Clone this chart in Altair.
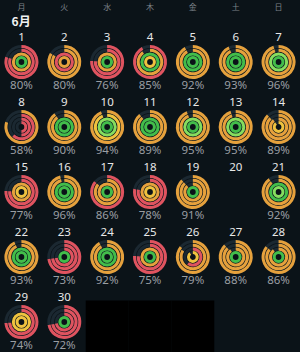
import math
import altair as alt
import pandas as pd

weekdays = ["月", "火", "水", "木", "金", "土", "日"]
month_label = "6月"
days = list(range(1, 31))
first_weekday = 0  # June 1 falls on a Monday
blank_days = [31, 32, 33]

pct = [80, 80, 76, 85, 92, 93, 96,
       58, 90, 94, 89, 95, 95, 89,
       77, 96, 86, 78, 91, None, 92,
       93, 73, 92, 75, 79, 88, 86,
       74, 72]

# ring colours, outer -> inner (R red, O orange, Y yellow, G green, L light green)
ring1_color = ["R", "O", "R", "R", "O", "O", "O",
               "O", "O", "O", "O", "O", "O", "O",
               "R", "O", "R", "R", "O", "", "O",
               "O", "R", "O", "R", "O", "O", "O",
               "R", "R"]
ring1_frac = [0.80, 0.84, 0.76, 0.92, 0.92, 0.93, 0.95,
              0.80, 0.90, 0.94, 0.89, 0.94, 0.95, 0.88,
              0.76, 0.96, 0.86, 0.78, 0.88, 0, 0.90,
              0.93, 0.73, 0.92, 0.76, 0.86, 0.88, 0.86,
              0.74, 0.72]
ring2_color = ["R", "O", "R", "O", "O", "O", "O",
               "R", "O", "Y", "O", "O", "O", "O",
               "R", "O", "O", "R", "O", "", "O",
               "O", "R", "O", "R", "O", "O", "O",
               "R", "R"]
ring2_frac = [0.80, 0.84, 0.76, 0.90, 0.92, 0.93, 0.95,
              0.62, 0.90, 0.94, 0.89, 0.94, 0.95, 0.88,
              0.76, 0.96, 0.86, 0.78, 0.88, 0, 0.90,
              0.93, 0.73, 0.92, 0.76, 0.84, 0.88, 0.86,
              0.74, 0.72]
ring3_color = ["O", "R", "O", "G", "G", "G", "L",
               "R", "G", "L", "G", "L", "L", "O",
               "O", "G", "O", "O", "O", "", "G",
               "G", "R", "G", "O", "R", "O", "O",
               "Y", "R"]
ring3_frac = [1.0, 1.0, 1.0, 1.0, 1.0, 1.0, 1.0,
              0.50, 1.0, 1.0, 1.0, 1.0, 1.0, 0.90,
              1.0, 1.0, 1.0, 1.0, 0.88, 0, 1.0,
              1.0, 0.73, 1.0, 1.0, 0.60, 0.90, 0.90,
              1.0, 0.72]
ring4_color = ["G", "O", "G", "Y", "G", "G", "G",
               "R", "G", "G", "G", "G", "G", "Y",
               "Y", "G", "G", "Y", "G", "", "L",
               "G", "G", "G", "G", "Y", "G", "G",
               "Y", "G"]
ring4_frac = [1.0, 1.0, 1.0, 1.0, 1.0, 1.0, 1.0,
              0.50, 1.0, 1.0, 1.0, 1.0, 1.0, 0.90,
              1.0, 1.0, 1.0, 1.0, 1.0, 0, 1.0,
              1.0, 1.0, 1.0, 1.0, 0.90, 1.0, 1.0,
              1.0, 1.0]

color_codes = ["R", "O", "Y", "G", "L"]
color_values = ["#e0535f", "#e6a13c", "#efc23e", "#42bd4a", "#86dd5e"]

# ring geometry (style): outer radius, inner radius per ring index
RADII = [(17.0, 14.0), (13.3, 10.3), (9.6, 6.6), (5.9, 2.9)]

def cell(d):
    i = d - 1 + first_weekday
    return i % 7 + 0.5, i // 7

rings = [(ring1_color, ring1_frac), (ring2_color, ring2_frac),
         (ring3_color, ring3_frac), (ring4_color, ring4_frac)]

ring_rows = []
day_rows = []
for k, d in enumerate(days):
    cx, ry = cell(d)
    day_rows.append({"col": cx, "row": ry, "day": str(d),
                     "label": "" if pct[k] is None else f"{pct[k]}%"})
    for j, (cols, fr) in enumerate(rings):
        if not cols[k]:
            continue
        ring_rows.append({"col": cx, "row": ry, "c": cols[k], "t0": 0.0,
                          "frac": fr[k], "full": 1.0,
                          "ro": RADII[j][0], "ri": RADII[j][1]})

ring_df = pd.DataFrame(ring_rows)
day_df = pd.DataFrame(day_rows)
blank_df = pd.DataFrame([{"c0": cell(d)[0] - 0.5, "c1": cell(d)[0] + 0.5,
                          "r0": cell(d)[1] - 0.33, "r1": cell(d)[1] + 0.6}
                         for d in blank_days])
head_df = pd.DataFrame({"col": [i + 0.5 for i in range(7)], "w": weekdays})
month_df = pd.DataFrame({"col": [0.27], "m": [month_label]})

W, H = 300, 352
xs = alt.Scale(domain=[0, 7], range=[0, W])
ys = alt.Scale(domain=[-62 / 65, (H - 62) / 65], range=[0, H])
ts = alt.Scale(domain=[0, 1], range=[0, 2 * math.pi])

X = lambda f: alt.X(f, type="quantitative", scale=xs, axis=None)
Y = lambda f: alt.Y(f, type="quantitative", scale=ys, axis=None)

blank = alt.Chart(blank_df).mark_rect(color="#000000").encode(
    x=X("c0"), x2="c1", y=Y("r0"), y2="r1")

tracks = alt.Chart(ring_df).mark_arc(color="#1b2831").encode(
    x=X("col"), y=Y("row"),
    theta=alt.Theta("t0:Q", scale=ts, stack=None), theta2="full:Q",
    radius=alt.Radius("ro:Q", scale=None), radius2="ri:Q")

arcs = alt.Chart(ring_df).mark_arc().encode(
    x=X("col"), y=Y("row"),
    theta=alt.Theta("t0:Q", scale=ts, stack=None), theta2="frac:Q",
    radius=alt.Radius("ro:Q", scale=None), radius2="ri:Q",
    color=alt.Color("c:N", scale=alt.Scale(domain=color_codes, range=color_values), legend=None))

nums = alt.Chart(day_df).mark_text(
    dy=-24, fontSize=11.5, color="#e8e8e8", font="Noto Sans", baseline="middle").encode(
    x=X("col"), y=Y("row"), text="day:N")

pcts = alt.Chart(day_df).mark_text(
    dy=24, fontSize=11.5, color="#9a9ea3", font="Noto Sans", baseline="middle").encode(
    x=X("col"), y=Y("row"), text="label:N")

heads = alt.Chart(head_df).mark_text(
    fontSize=8, color="#7c8288", font="Noto Sans CJK JP", baseline="middle").encode(
    x=X("col"), y=alt.value(8), text="w:N")

month = alt.Chart(month_df).mark_text(
    fontSize=12, color="#f2f2f2", font="Noto Sans CJK JP", fontWeight="bold",
    baseline="middle", align="left").encode(
    x=X("col"), y=alt.value(22), text="m:N")

chart = alt.layer(blank, tracks, arcs, nums, pcts, heads, month).properties(
    width=W, height=H, padding=0, autosize=alt.AutoSizeParams(type="none"),
    background="#0b1318"
).configure_view(stroke=None)

chart.save("out.html", embed_options={"renderer": "svg", "actions": False})
